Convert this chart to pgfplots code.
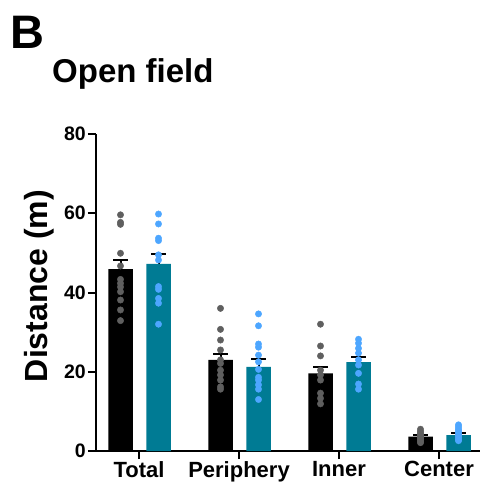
\documentclass[border=0pt]{standalone}
\usepackage{fontspec}
\setmainfont{Liberation Sans}
\usepackage{pgfplots}
\pgfplotsset{compat=1.18}
\definecolor{tealbar}{RGB}{0,123,148}
\definecolor{bluedot}{RGB}{77,166,255}
\definecolor{graydot}{RGB}{95,95,95}
\begin{document}
\begin{tikzpicture}[x=1pt,y=1pt]
\path[use as bounding box] (0,0) rectangle (481,488);
\node[anchor=base west, inner sep=0, font=\fontsize{47}{47}\selectfont\bfseries] at (10,439) {B};
\node[anchor=base west, inner sep=0, font=\fontsize{33}{33}\selectfont\bfseries] at (52,405) {Open field};
\node[rotate=90, inner sep=0, font=\fontsize{32}{32}\selectfont\bfseries] at (39,202) {Distance (m)};
\begin{axis}[at={(96pt,37pt)}, anchor=south west,
  scale only axis, width=384pt, height=317pt,
  xmin=-0.43, xmax=3.41, ymin=0, ymax=80,
  axis x line=bottom, axis y line=left,
  axis line style={-, line width=2pt},
  ytick={0,20,40,60,80}, xtick={0,1,2,3},
  xticklabels={Total,Periphery,Inner,Center},
  tick style={line width=2pt, black}, major tick length=8pt, tick align=outside,
  /pgf/number format/assume math mode=true,
  yticklabel style={font=\fontsize{19.5}{19.5}\selectfont\bfseries, inner sep=2pt},
  xticklabel style={font=\fontsize{22}{22}\selectfont\bfseries, inner sep=2pt},
  clip=false]
\addplot[ybar, bar width=24.5pt, bar shift=0pt, fill=black, draw=none,
  error bars/.cd, y dir=plus, y explicit,
  error bar style={line width=2pt, draw=black},
  error mark options={rotate=90, line width=2pt, mark size=7.5pt, draw=black}]
  coordinates {(-0.185,45.9) +- (0,2.3) (0.815,23.0) +- (0,1.6) (1.815,19.6) +- (0,1.5) (2.815,3.6) +- (0,0.4)};
\addplot[ybar, bar width=24.5pt, bar shift=0pt, fill=tealbar, draw=none,
  error bars/.cd, y dir=plus, y explicit,
  error bar style={line width=2pt, draw=black},
  error mark options={rotate=90, line width=2pt, mark size=7.5pt, draw=black}]
  coordinates {(0.195,47.2) +- (0,2.6) (1.195,21.2) +- (0,1.9) (2.195,22.4) +- (0,1.2) (3.195,4.0) +- (0,0.5)};
\addplot[only marks, mark=*, mark size=3.2pt, color=graydot, draw=graydot, fill=graydot, mark options={draw=graydot, fill=graydot}]
  table {
x y
-0.185 59.6
-0.185 57.7
-0.185 57.2
-0.185 49.9
-0.185 46.7
-0.185 43.3
-0.185 42.3
-0.185 41.4
-0.185 40.2
-0.185 38.1
-0.185 35.6
-0.185 32.9
0.815 36.0
0.815 30.7
0.815 28.0
0.815 25.5
0.815 23.0
0.815 22.1
0.815 20.4
0.815 19.2
0.815 17.9
0.815 16.2
0.815 15.6
1.815 32.0
1.815 26.5
1.815 24.0
1.815 20.4
1.815 19.2
1.815 17.9
1.815 14.6
1.815 13.3
1.815 11.9
2.815 5.5
2.815 5.0
2.815 4.6
2.815 4.2
2.815 3.8
2.815 3.5
2.815 3.2
2.815 3.0
2.815 2.7
2.815 2.4
2.815 2.1
};
\addplot[only marks, mark=*, mark size=3.2pt, color=bluedot, draw=bluedot, fill=bluedot, mark options={draw=bluedot, fill=bluedot}]
  table {
x y
0.195 59.8
0.195 57.3
0.195 53.7
0.195 53.1
0.195 49.5
0.195 48.2
0.195 41.5
0.195 40.8
0.195 38.5
0.195 37.3
0.195 32.0
1.195 34.6
1.195 31.6
1.195 27.0
1.195 26.2
1.195 24.2
1.195 22.5
1.195 20.6
1.195 18.6
1.195 17.9
1.195 16.7
1.195 15.6
1.195 13.0
2.195 28.2
2.195 27.2
2.195 25.9
2.195 24.7
2.195 23.0
2.195 21.7
2.195 19.6
2.195 16.9
2.195 15.6
3.195 6.6
3.195 6.1
3.195 5.6
3.195 5.2
3.195 4.8
3.195 4.4
3.195 4.0
3.195 3.6
3.195 3.2
3.195 2.8
3.195 2.6
};
\end{axis}
\end{tikzpicture}
\end{document}
